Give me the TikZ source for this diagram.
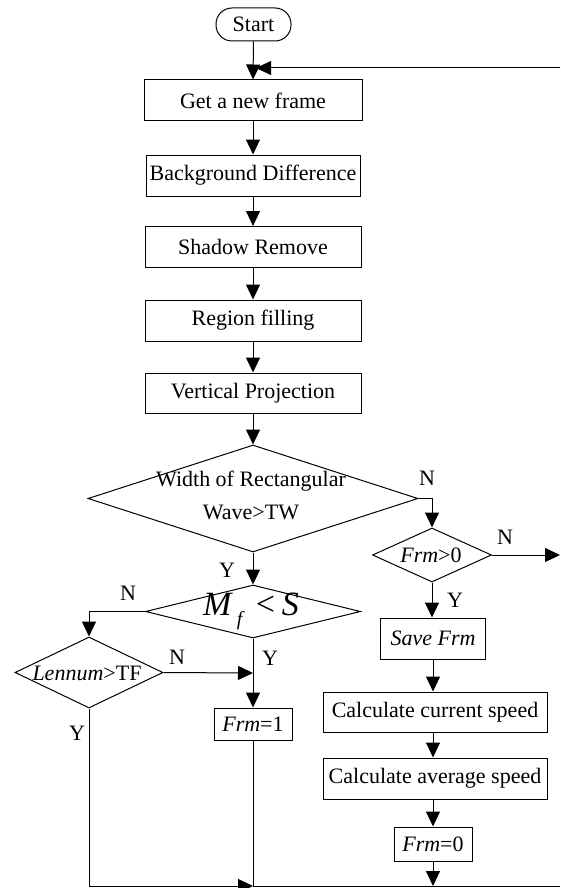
\documentclass[tikz,border=0pt]{standalone}
\usepackage{fontspec}
\setmainfont{Liberation Serif}
\usetikzlibrary{arrows.meta,shapes.geometric}

\begin{document}
\begin{tikzpicture}[x=1pt,y=-1pt,
  font=\fontsize{22}{24}\selectfont,
  line width=1pt,
  proc/.style={draw, rectangle, inner sep=1pt, minimum height=41pt},
  dec/.style={draw, diamond, inner sep=0pt},
  arr/.style={-{Triangle[length=15pt,width=14pt]}},
  lab/.style={inner sep=0pt}]
\useasboundingbox (0,0) rectangle (560,888);

% terminal and main column
\node[draw, rectangle, rounded corners=16pt, minimum width=75pt, minimum height=33pt, inner sep=1pt] (start) at (253.5,24.5) {Start};
\node[proc, minimum width=218pt] (get) at (253,100.5) {Get a new frame};
\node[proc, minimum width=214pt] (bg) at (253,175.5) {Background Difference};
\node[proc, minimum width=216pt] (shadow) at (253,247) {Shadow Remove};
\node[proc, minimum width=216pt] (region) at (253,320.5) {Region filling};
\node[proc, minimum width=216pt, minimum height=40pt] (vert) at (253,393) {Vertical Projection};

% decision 1
\node[dec, minimum width=330pt, minimum height=107pt] (d1) at (253,498.5) {};
\node[align=center, font=\fontsize{22}{33}\selectfont, inner sep=0pt] (d1t) at (251,495) {Width of Rectangular\\Wave>TW};

% right branch
\node[dec, minimum width=119pt, minimum height=54pt] (d2) at (432,555) {};
\node[inner sep=0pt] (d2t) at (431,555) {\textit{Frm}>0};
\node[proc, minimum width=105pt] (save) at (433,638.5) {\textit{Save Frm}};
\node[proc, minimum width=224pt, minimum height=40pt] (calc1) at (435,712) {Calculate current speed};
\node[proc, minimum width=224pt] (calc2) at (435,778.5) {Calculate average speed};
\node[proc, minimum width=78pt, minimum height=34pt] (frm0) at (433,844) {\textit{Frm}=0};

% left branch
\node[dec, minimum width=215pt, minimum height=53pt] (d3) at (253,611.5) {};
\node[inner sep=0pt] (d3t) at (251,611) {\fontsize{34}{34}\selectfont\textit{M}\hspace{4pt}\raisebox{-10pt}{\fontsize{20}{20}\selectfont\textit{f}}\hspace{11pt}<\hspace{7pt}\textit{S}};
\node[dec, minimum width=148pt, minimum height=71pt] (d4) at (89,672.5) {};
\node[inner sep=0pt] (d4t) at (87,673) {\textit{Lennum}>TF};
\node[proc, minimum width=78pt, minimum height=32pt] (frm1) at (253,724) {\textit{Frm}=1};

% labels
\node[lab] (l1) at (427,478) {N};
\node[lab] (l2) at (505,537) {N};
\node[lab] (l3) at (455,600) {Y};
\node[lab] (l4) at (227,570) {Y};
\node[lab] (l5) at (128,593) {N};
\node[lab] (l6) at (177,657) {N};
\node[lab] (l7) at (270,658) {Y};
\node[lab] (l8) at (77,733) {Y};

% free ends
\coordinate (loopR) at (560,68);
\coordinate (loopE) at (256,68);
\coordinate (outR) at (560,555);
\coordinate (junc) at (253,673);
\coordinate (botM) at (253,886);
\coordinate (bot0) at (433,886);
\coordinate (botR) at (560,886);

% connectors
\draw[arr] (start.south) -- (get.north);
\draw[arr] (loopR) -- (loopE);
\draw[arr] (get) -- (bg);
\draw[arr] (bg) -- (shadow);
\draw[arr] (shadow) -- (region);
\draw[arr] (region) -- (vert);
\draw[arr] (vert) -- (d1);
\draw[arr] (d1.east) -| (d2.north);
\draw[arr] (d2.east) -- (outR);
\draw[arr] (d2.south) -- (d2.south |- save.north);
\draw[arr] (save.south) -- (save.south |- calc1.north);
\draw[arr] (save.south |- calc1.south) -- (save.south |- calc2.north);
\draw[arr] (save.south |- calc2.south) -- (save.south |- frm0.north);
\draw[arr] (frm0.south) -- (bot0);
\draw[arr] (d1.south) -- (d3.north);
\draw[arr] (d3.west) -| (d4.north);
\draw[arr] (d4.east) -- (junc);
\draw[arr] (d3.south) -- (frm1.north);
\draw (frm1.south) -- (botM);
\draw[arr] (d4.south) |- (botM);
\draw (botM) -- (botR);
\end{tikzpicture}
\end{document}
